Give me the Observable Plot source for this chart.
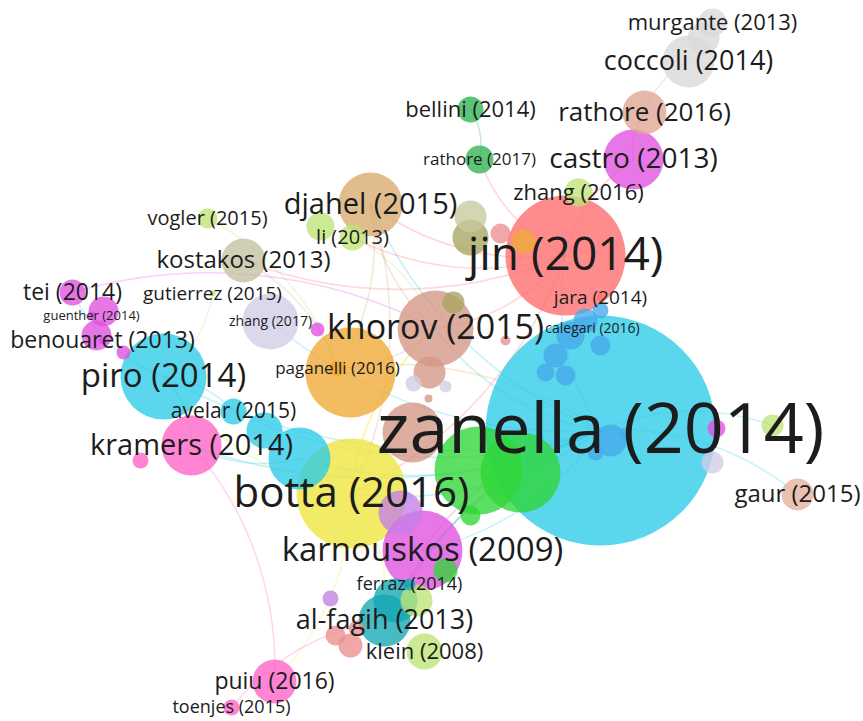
<!DOCTYPE html>
<html>
<head>
<meta charset="utf-8">
<script src="https://cdn.jsdelivr.net/npm/d3@7"></script>
<script src="https://cdn.jsdelivr.net/npm/@observablehq/plot@0.6"></script>
<style>
  html, body { margin: 0; padding: 0; background: #fff; }
  #chart svg { display: block; }
</style>
</head>
<body>
<div id="chart"></div>
<script>
// ---- Map data (VOSviewer-style co-citation map; coordinates are map units) ----
const nodeId = ["z","jin","botta","g1","g2","kh","kh2","piro","orng","pag","dj","karn","viol","kram","cy1","cy2","av","zh17","cas","coc","coc2","mur","rat16","kos","alf","fer","teal2","kl","lm2","sal1","sal2","sal3","puiu","toen","gaur","zh16","bel","rat17","vog","li","lm3","ol1","ol2","ol3","tei","tei2","tei3","guen","ben","pk1","gut","jara","cal","b1","b2","b3","b4","b5","b6","b7","b8","b9","b10","mg1","lm4","lv1","brz","lv2","lv3","pk2","pk3","vio2","rd1","rd2","gr1","gr2","br3","sm1"];
const nodeLabel = ["zanella (2014)","jin (2014)","botta (2016)","","","khorov (2015)","","piro (2014)","","paganelli (2016)","djahel (2015)","karnouskos (2009)","","kramers (2014)","","","avelar (2015)","zhang (2017)","castro (2013)","coccoli (2014)","","murgante (2013)","rathore (2016)","kostakos (2013)","al-fagih (2013)","ferraz (2014)","","klein (2008)","","","","","puiu (2016)","toenjes (2015)","gaur (2015)","zhang (2016)","bellini (2014)","rathore (2017)","vogler (2015)","li (2013)","","","","","tei (2014)","","","guenther (2014)","benouaret (2013)","","gutierrez (2015)","jara (2014)","calegari (2016)","","","","","","","","","","","","","","","","","","","","","","","","",""];
const nodeX = [600,565,351,478,520,435,429,163,350,337,370,422,400,191,299,264,233,270,633,688,703,712,644,243,384,409,395,424,416,335,350,356,274,231,797,578,470,479,207,352,320,470,470,453,72,103,96,91,102,123,212,600,592,570,555,585,600,545,565,610,595,625,600,716,772,712,412,413,445,317,140,330,500,523,470,445,428,505];
const nodeY = [430,255,493,470,472,328,372,376,372,368,204,550,512,445,458,430,411,321,159,61,38,22,112,260,620,584,600,651,600,635,645,628,681,707,494,192,109,159,218,237,226,237,216,302,292,311,335,315,340,352,293,297,328,335,355,320,345,372,375,440,452,433,310,428,425,462,432,383,386,329,460,598,233,241,515,570,398,340];
const nodeSize = [115,60,55,44,40,38,16,43,45,8,32,40,22,30,31,18,13,28,30,26,16,14,22,22,26,6,22,18,16,10,12,8,22,8,16,14,13,14,10,13,14,18,16,11,13,15,15,4,4,7,3,4,3,14,12,12,10,9,10,16,8,6,8,9,11,11,30,8,6,7,8,8,10,12,10,12,4,5];
const nodeCluster = ["cyan","red","yellow","green","green","brown","brown","cyan","orange","orange","tan","magenta","violet","pink","cyan","cyan","cyan","lavender","magenta","gray","gray","gray","salmonbrown","sage","teal","teal","teal","lime","lime","salmon","salmon","salmon","pink","pink","peach","lime","darkgreen","darkgreen","lime","lime","lime","olive","paleolive","olive","magenta","magenta","magenta","magenta","magenta","magenta","lime","red","blue","blue","blue","blue","blue","blue","blue","blue","blue","blue","blue","magenta","lime","lavender","brown","lavender","lavender","magenta","pink","violet","salmon","orange","green","green","brown","salmon"];
const labelSize = [70,46,42,0,0,34,0,33,0,17,29,33,0,29,0,0,21,14,28,27,0,22,26,24,27,18,0,22,0,0,0,0,23,18,24,22,22,17,20,20,0,0,0,0,23,0,0,13,23,0,19,19,14,0,0,0,0,0,0,0,0,0,0,0,0,0,0,0,0,0,0,0,0,0,0,0,0,0];

const linkFrom = ["z","z","z","z","z","z","jin","jin","jin","jin","jin","botta","botta","botta","botta","kh","piro","piro","kram","z","z","cas","rat16","coc","bel","kos","vog","tei","li","dj","karn","alf","fer","botta","jin","kh","z","z","pag","gut","toen","piro","z","jin","dj","cy1","botta","z"];
const linkTo   = ["jin","botta","kh","piro","kram","dj","dj","kh","cas","rat17","kos","piro","puiu","alf","karn","dj","tei","kram","puiu","gaur","lm4","rat16","coc","mur","rat17","pag","pag","kh","kh","pag","z","z","z","kh","li","pag","zh17","av","z","piro","alf","av","cy1","botta","botta","kram","kh","karn"];

const clusterNames  = ["cyan","red","yellow","green","brown","orange","tan","magenta","violet","pink","lavender","gray","salmonbrown","sage","teal","lime","salmon","peach","darkgreen","olive","paleolive","blue"];
const clusterColors = ["#2ccbe8","#ff6b6b","#eee63c","#2fd637","#d49684","#f0a935","#d8aa6e","#e04fe0","#c47fe6","#ff63c8","#cfcde4","#d9d9d9","#dfa594","#c3c1a2","#12a8b3","#bde474","#ec8e8e","#e6b198","#2fb352","#a6a460","#c8c99c","#47a9ea"];

// ---- Build tables ----
const nodes = nodeId.map((id, i) => ({
  id, label: nodeLabel[i], x: nodeX[i], y: nodeY[i], r: nodeSize[i],
  cluster: nodeCluster[i], fs: labelSize[i]
}));
const byId = new Map(nodes.map(d => [d.id, d]));
const links = linkFrom.map((s, i) => {
  const a = byId.get(s), b = byId.get(linkTo[i]);
  return {x1: a.x, y1: a.y, x2: b.x, y2: b.y, cluster: a.cluster};
});
const circles = nodes.slice().sort((a, b) => b.r - a.r);
const labels = nodes.filter(d => d.label).sort((a, b) => a.fs - b.fs);

const chart = Plot.plot({
  width: 863,
  height: 721,
  margin: 0,
  style: {background: "#fff", fontFamily: "'Open Sans', 'Noto Sans', sans-serif"},
  x: {domain: [0, 863], range: [0, 863], axis: null},
  y: {domain: [0, 721], range: [0, 721], axis: null},
  r: {type: "identity"},
  color: {domain: clusterNames, range: clusterColors},
  marks: [
    Plot.arrow(links, {
      x1: "x1", y1: "y1", x2: "x2", y2: "y2",
      stroke: "cluster", strokeOpacity: 0.26, strokeWidth: 1.6,
      bend: 22, headLength: 0, insetStart: 0, insetEnd: 0
    }),
    Plot.dot(circles, {
      x: "x", y: "y", r: "r", fill: "cluster", fillOpacity: 0.78, stroke: null
    }),
    Plot.text(labels, {
      x: "x", y: "y", text: "label", fontSize: d => d.fs,
      fill: "#1c1c1c", fontFamily: "'Open Sans', 'Noto Sans', sans-serif",
      textAnchor: "middle"
    })
  ]
});
document.getElementById("chart").appendChild(chart);
</script>
</body>
</html>
